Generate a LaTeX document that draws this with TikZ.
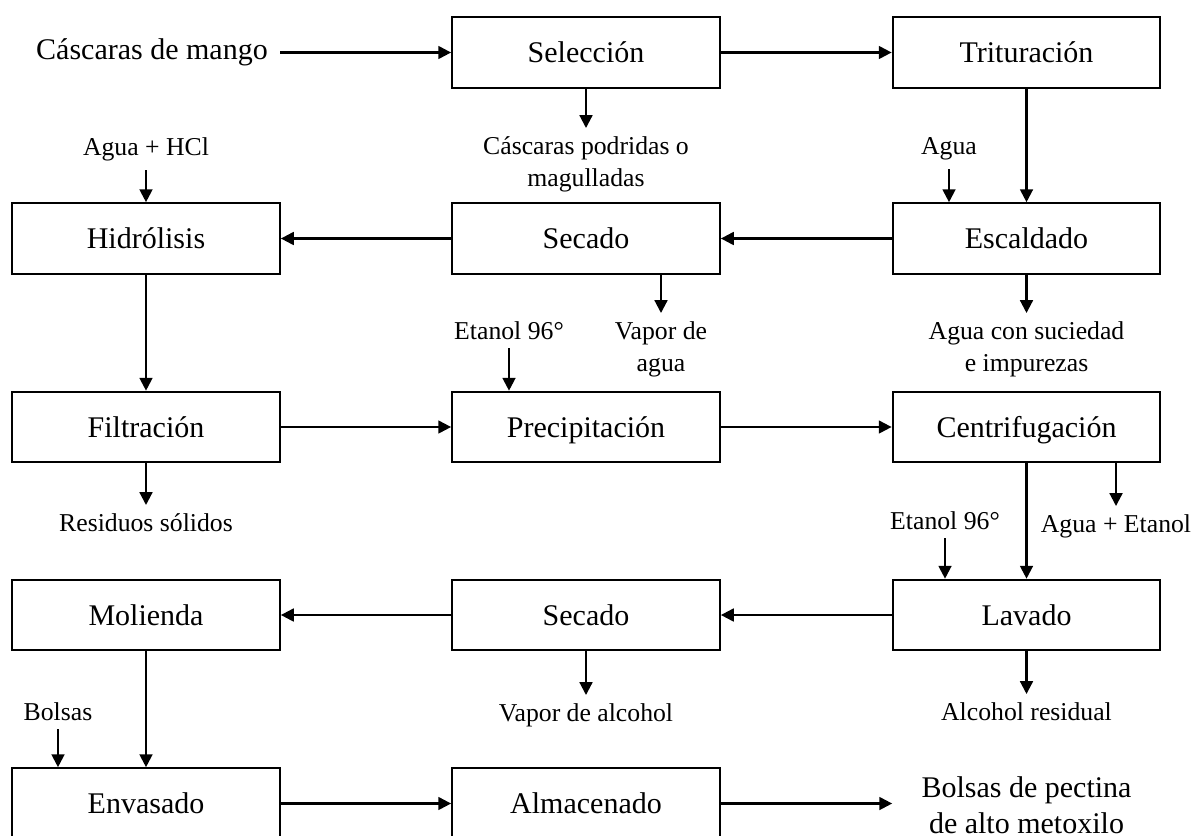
\documentclass[tikz,border=0pt]{standalone}
\usepackage{fontspec}
\setmainfont{Liberation Serif}
\usepackage{tikz}
\usetikzlibrary{arrows.meta,positioning,calc}
\tikzstyle{paso}=[draw,rectangle,line width=0.9pt,minimum width=125pt,minimum height=33pt,inner sep=2pt,text height=10.5pt,text depth=1.1pt,font=\fontsize{14}{17}\selectfont]
\tikzstyle{final}=[minimum width=125pt,inner sep=2pt,align=center,font=\fontsize{14}{17}\selectfont]
\tikzstyle{etiq}=[inner sep=1pt,outer sep=3pt,align=center,font=\fontsize{12}{15}\selectfont]
\tikzstyle{flujo}=[-{Triangle[length=6pt,width=6pt]},line width=1pt]

\begin{document}
\begin{tikzpicture}[x=0.46667pt,y=-0.46667pt]
\useasboundingbox (0,0) rectangle (1193,835);
% etapas del proceso
\node [paso] (sel) at (586,52.5) {Selección};
\node [paso] (tri) at (1026.5,52.5) {Trituración};
\node [paso] (hid) at (146,238.5) {Hidrólisis};
\node [paso] (sec1) at (586,238.5) {Secado};
\node [paso] (esc) at (1026.5,238.5) {Escaldado};
\node [paso] (fil) at (146,427) {Filtración};
\node [paso] (pre) at (586,427) {Precipitación};
\node [paso] (cen) at (1026.5,427) {Centrifugación};
\node [paso] (mol) at (146,615) {Molienda};
\node [paso] (sec2) at (586,615) {Secado};
\node [paso] (lav) at (1026.5,615) {Lavado};
\node [paso] (env) at (146,803.5) {Envasado};
\node [paso] (alm) at (586,803.5) {Almacenado};
% entrada y producto
\node [anchor=east,inner sep=5.5pt,font=\fontsize{14}{17}\selectfont] (mango) at (280,52.5) {Cáscaras de mango};
\node [final] (prod) at (1026.5,805) {Bolsas de pectina\\de alto metoxilo};
% insumos
\node [etiq,anchor=south] (hcl) at (146,170) {Agua + HCl};
\node [etiq,anchor=south] (agua) at (949,169) {Agua};
\node [etiq,anchor=south] (et1) at (509,348) {Etanol 96°};
\node [etiq,anchor=south] (et2) at (945,538) {Etanol 96°};
\node [etiq,anchor=south] (bols) at (58,729) {Bolsas};
% salidas
\node [etiq,anchor=north] (podr) at (586,128) {Cáscaras podridas o\\magulladas};
\node [etiq,anchor=north] (vapag) at (661,313) {Vapor de\\agua};
\node [etiq,anchor=north] (sucie) at (1026.5,313) {Agua con suciedad\\e impurezas};
\node [etiq,anchor=north] (resid) at (146,505) {Residuos sólidos};
\node [etiq,anchor=north] (aguaet) at (1116,506) {Agua + Etanol};
\node [etiq,anchor=north] (alcres) at (1026.5,694) {Alcohol residual};
\node [etiq,anchor=north] (vapal) at (586,695) {Vapor de alcohol};

% flujo principal
\draw [flujo] (mango.east) -- (sel.west);
\draw [flujo] (sel.east) -- (tri.west);
\draw [flujo] (tri.south) -- (esc.north);
\draw [flujo] (esc.west) -- (sec1.east);
\draw [flujo] (sec1.west) -- (hid.east);
\draw [flujo] (hid.south) -- (fil.north);
\draw [flujo] (fil.east) -- (pre.west);
\draw [flujo] (pre.east) -- (cen.west);
\draw [flujo] (cen.south) -- (lav.north);
\draw [flujo] (lav.west) -- (sec2.east);
\draw [flujo] (sec2.west) -- (mol.east);
\draw [flujo] (mol.south) -- (env.north);
\draw [flujo] (env.east) -- (alm.west);
\draw [flujo] (alm.east) -- (alm.east -| prod.west);
% entradas
\draw [flujo] (hcl.south) -- (hid.north);
\draw [flujo] (agua.south) -- (agua.south |- esc.north);
\draw [flujo] (et1.south) -- (et1.south |- pre.north);
\draw [flujo] (et2.south) -- (et2.south |- lav.north);
\draw [flujo] (bols.south) -- (bols.south |- env.north);
% salidas
\draw [flujo] (sel.south) -- (podr.north);
\draw [flujo] (sec1.south -| vapag.north) -- (vapag.north);
\draw [flujo] (esc.south) -- (sucie.north);
\draw [flujo] (fil.south) -- (resid.north);
\draw [flujo] (cen.south -| aguaet.north) -- (aguaet.north);
\draw [flujo] (lav.south) -- (alcres.north);
\draw [flujo] (sec2.south) -- (vapal.north);
\end{tikzpicture}
\end{document}
